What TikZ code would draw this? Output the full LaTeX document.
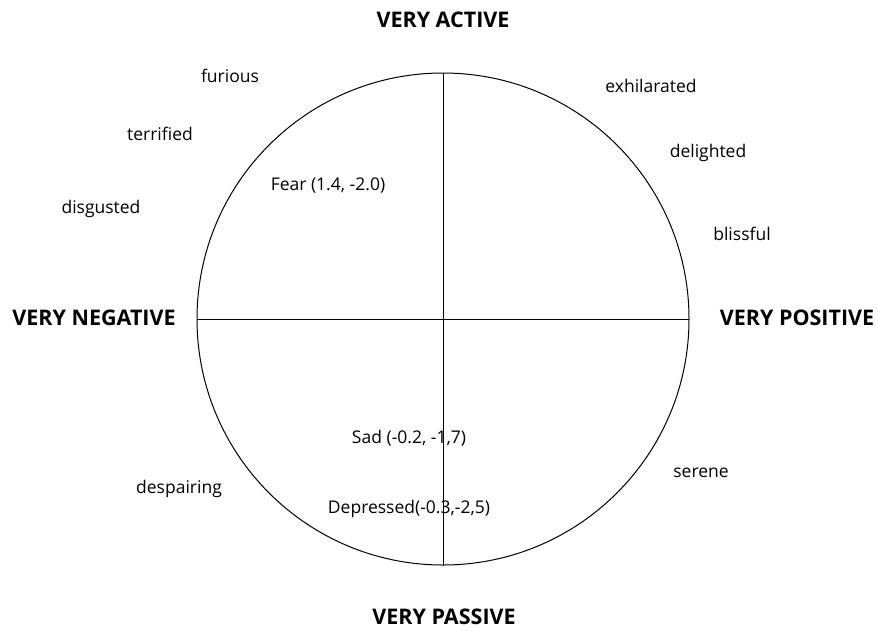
\documentclass[tikz,border=0pt]{standalone}
\usepackage{fontspec}
\setmainfont{Open Sans}
\begin{document}
\begin{tikzpicture}[x=1pt,y=-1pt,
  axislabel/.style={font=\bfseries\fontsize{21.5}{24}\selectfont, inner sep=0pt},
  emo/.style={font=\fontsize{17.5}{20}\selectfont, inner sep=0pt},
  axisline/.style={line width=1pt}]
\useasboundingbox (0,0) rectangle (878,630);
\node[draw, circle, line width=1pt, minimum size=492pt, inner sep=0pt] (c) at (443,319) {};
\coordinate (top) at (443,73);
\coordinate (bot) at (443,565);
\coordinate (lft) at (197,319);
\coordinate (rgt) at (689,319);
\draw[axisline] (top) -- (bot);
\draw[axisline] (lft) -- (rgt);
\node[axislabel] (act) at (443,20) {VERY ACTIVE};
\node[axislabel] (neg) at (94,318) {VERY NEGATIVE};
\node[axislabel] (pos) at (797,318) {VERY POSITIVE};
\node[axislabel] (pas) at (444,617) {VERY PASSIVE};
\node[emo] (furious) at (230,76) {furious};
\node[emo] (terrified) at (160,134) {terrified};
\node[emo] (disgusted) at (101,209) {disgusted};
\node[emo] (exhil) at (651,86) {exhilarated};
\node[emo] (delighted) at (708,153) {delighted};
\node[emo] (blissful) at (742,234) {blissful};
\node[emo] (fear) at (328,186) {Fear (1.4, -2.0)};
\node[emo] (sad) at (409,438) {Sad (-0.2, -1,7)};
\node[emo] (depr) at (409,509) {Depressed(-0.3,-2,5)};
\node[emo] (desp) at (179,489) {despairing};
\node[emo] (serene) at (701,473) {serene};
\end{tikzpicture}
\end{document}
